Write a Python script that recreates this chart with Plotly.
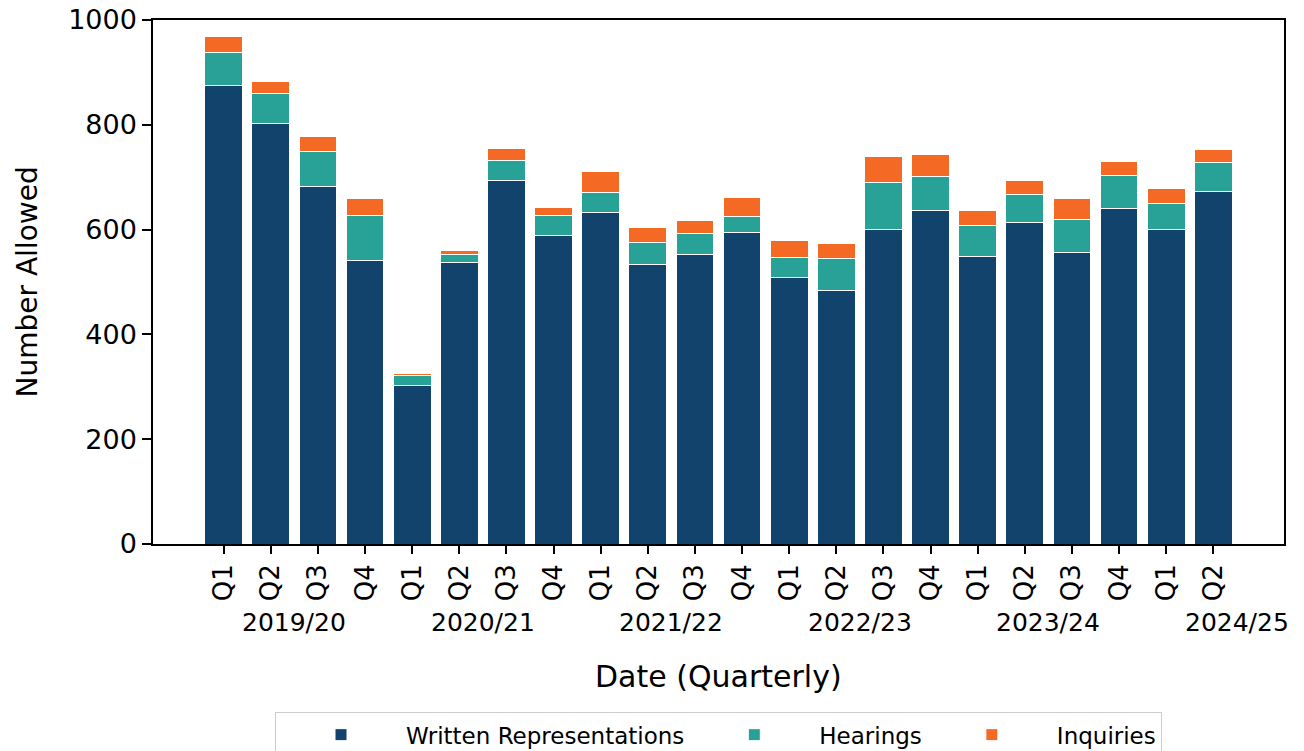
import plotly.graph_objects as go

quarters = ["Q1", "Q2", "Q3", "Q4", "Q1", "Q2", "Q3", "Q4", "Q1", "Q2", "Q3", "Q4",
            "Q1", "Q2", "Q3", "Q4", "Q1", "Q2", "Q3", "Q4", "Q1", "Q2"]
years = ["2019/20", "2020/21", "2021/22", "2022/23", "2023/24", "2024/25"]

written = [875, 803, 683, 541, 303, 537, 693, 588, 632, 534, 552, 594,
           509, 483, 600, 636, 548, 613, 556, 641, 601, 672]
hearings = [63, 56, 66, 86, 19, 15, 38, 39, 39, 41, 41, 31,
            37, 61, 90, 66, 59, 54, 64, 62, 48, 56]
inquiries = [31, 24, 28, 32, 4, 8, 23, 15, 40, 29, 25, 37,
             34, 30, 49, 42, 30, 26, 39, 27, 30, 25]

colors = {"Written Representations": "#12436D", "Hearings": "#28A197", "Inquiries": "#F46A25"}
FONT = "DejaVu Sans"

x = list(range(len(quarters)))
fig = go.Figure()
for name, vals in [("Written Representations", written), ("Hearings", hearings), ("Inquiries", inquiries)]:
    fig.add_trace(go.Bar(x=x, y=vals, name=name, width=0.8,
                         marker=dict(color=colors[name], line=dict(color="white", width=1))))

fig.update_layout(
    barmode="stack",
    width=1304, height=751,
    margin=dict(l=153, r=20, t=20, b=207, autoexpand=False),
    plot_bgcolor="white", paper_bgcolor="white",
    font=dict(family=FONT, color="black"),
    legend=dict(orientation="h", x=0.5, xanchor="center", y=-0.321, yanchor="top",
                font=dict(size=23, family=FONT), bordercolor="#cccccc", borderwidth=1,
                bgcolor="white", itemwidth=120, traceorder="normal"),
)
fig.update_xaxes(range=[-1.5, 22.5], tickmode="array", tickvals=x, ticktext=quarters,
                 tickangle=-90, ticks="outside", ticklen=8, tickwidth=1.5, tickcolor="black",
                 tickfont=dict(size=26, family=FONT), showline=True, linecolor="black",
                 linewidth=1.5, mirror=True, showgrid=False, zeroline=False,
                 ticklabeloverflow="allow")
fig.update_yaxes(range=[0, 1000], tickmode="array", tickvals=[0, 200, 400, 600, 800, 1000],
                 ticks="outside", ticklen=9, tickwidth=1.5, tickcolor="black",
                 tickfont=dict(size=27, family=FONT), showline=True, linecolor="black",
                 linewidth=1.5, mirror=True, showgrid=False, zeroline=False,
                 ticklabeloverflow="allow")

for i, yr in enumerate(years):
    fig.add_annotation(x=4 * i + 1.5, xref="x", y=-0.149, yref="paper", text=yr,
                       showarrow=False, xanchor="center", yanchor="middle",
                       font=dict(size=25, family=FONT))

fig.add_annotation(x=0.5, xref="paper", y=-0.252, yref="paper", text="Date (Quarterly)",
                   showarrow=False, xanchor="center", yanchor="middle",
                   font=dict(size=30, family=FONT))
fig.add_annotation(x=-0.111, xref="paper", y=0.5, yref="paper", text="Number Allowed",
                   showarrow=False, xanchor="center", yanchor="middle", textangle=-90,
                   font=dict(size=28, family=FONT))

fig.write_html("out.html", config={"displayModeBar": False},
               post_script="document.body.style.margin='0';document.body.style.overflow='hidden';")
